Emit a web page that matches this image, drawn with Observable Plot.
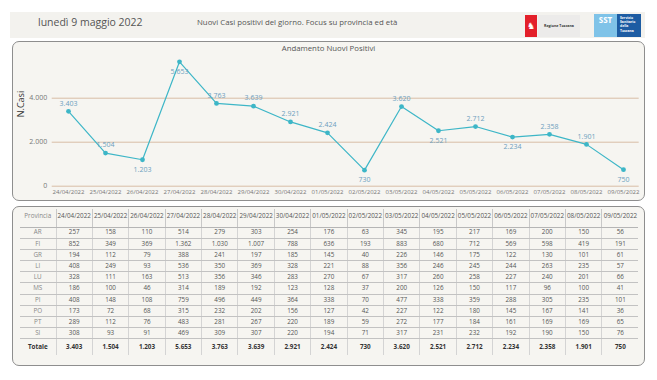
<!DOCTYPE html>
<html>
<head>
<meta charset="utf-8">
<script src="https://cdn.jsdelivr.net/npm/d3@7"></script>
<script src="https://cdn.jsdelivr.net/npm/@observablehq/plot@0.6"></script>
<style>
  html, body { margin: 0; padding: 0; background: #ffffff; }
  body { width: 657px; height: 380px; position: relative; overflow: hidden; font-family: "Open Sans", "Noto Sans", sans-serif; }
  .band { position: absolute; left: 10px; top: 12px; width: 635px; height: 26px; background: #f3f2ee; }
  .date { position: absolute; left: 38px; top: 14px; font-size: 10.5px; color: #555; line-height: 16px; }
  .sub { position: absolute; left: 197px; top: 16px; font-size: 7.8px; color: #555; line-height: 12px; }
  .rtred { position: absolute; left: 525px; top: 15px; width: 12px; height: 22px; background: #e3202a; color: #fff; font-size: 9px; text-align: center; line-height: 22px; }
  .rttxt { position: absolute; left: 538px; top: 15px; width: 42px; height: 22px; background: #ecebea; font-size: 3.6px; font-weight: bold; color: #333; line-height: 22px; text-align: center; }
  .sst1 { position: absolute; left: 594px; top: 14px; width: 23px; height: 23px; background: #7fc3e8; color: #fff; font-size: 8px; font-weight: bold; text-align: center; line-height: 12px; }
  .sst2 { position: absolute; left: 617px; top: 14px; width: 24px; height: 23px; background: #1d5ca3; color: #fff; font-size: 3.4px; font-weight: bold; line-height: 4.2px; padding: 2px 0 0 3px; box-sizing: border-box; }
  .panel { position: absolute; box-sizing: border-box; border: 1px solid #8e8e8e; border-radius: 7px; background: #f6f5f1; }
  #chartPanel { left: 12px; top: 41px; width: 633px; height: 160px; }
  #tablePanel { left: 12px; top: 206px; width: 633px; height: 160px; }
  .ctitle { position: absolute; left: 0; width: 631px; top: 1px; text-align: center; font-size: 7.8px; color: #555; }
  #chart { position: absolute; left: 0; top: 0; }
  table { position: absolute; left: 7px; top: 1.5px; border-collapse: collapse; table-layout: fixed; font-size: 6.3px; color: #555; }
  td, th { text-align: center; padding: 0; overflow: hidden; white-space: nowrap; line-height: 1; }
  th { font-weight: normal; color: #555; height: 16px; vertical-align: middle; padding-bottom: 2px; border-bottom: 1px solid #b5b5b5; border-left: 1px solid #c8c8c8; }
  th:first-child, td:first-child { border-left: none; color: #888; }
  td { height: 10.2px; border-bottom: 1px solid #c2c2c2; border-left: 1px solid #d4d4d4; }
  tr.tot td { height: 15.6px; font-weight: bold; color: #333; border-bottom: none; }
  tr.tot td:first-child { color: #333; }
</style>
</head>
<body>
<div class="band"></div>
<div class="date">lunedì 9 maggio 2022</div>
<div class="sub">Nuovi Casi positivi del giorno. Focus su provincia ed età</div>
<div class="rtred">♞</div>
<div class="rttxt">Regione Toscana</div>
<div class="sst1">SST</div>
<div class="sst2">Servizio<br>Sanitario<br>della<br>Toscana</div>

<div class="panel" id="chartPanel">
  <div id="chart"></div>
  <div class="ctitle">Andamento Nuovi Positivi</div>
</div>
<div class="panel" id="tablePanel"></div>

<script>
// ---- data ----
const dates = ["24/04/2022","25/04/2022","26/04/2022","27/04/2022","28/04/2022","29/04/2022","30/04/2022","01/05/2022","02/05/2022","03/05/2022","04/05/2022","05/05/2022","06/05/2022","07/05/2022","08/05/2022","09/05/2022"];
const totals = [3403,1504,1203,5653,3763,3639,2921,2424,730,3620,2521,2712,2234,2358,1901,750];
const provinces = ["AR","FI","GR","LI","LU","MS","PI","PO","PT","SI"];
const AR = [257,158,110,514,279,303,254,176,63,345,195,217,169,200,150,56];
const FI = [852,349,369,1362,1030,1007,788,636,193,883,680,712,569,598,419,191];
const GR = [194,112,79,388,241,197,185,145,40,226,146,175,122,130,101,61];
const LI = [408,249,93,536,350,369,328,221,88,356,246,245,244,263,235,57];
const LU = [328,111,163,513,356,346,283,270,67,317,260,258,227,240,201,66];
const MS = [186,100,46,314,189,192,123,128,37,200,126,150,117,96,100,41];
const PI = [408,148,108,759,496,449,364,338,70,477,338,359,288,305,235,101];
const PO = [173,72,68,315,232,202,156,127,42,227,122,180,145,167,141,36];
const PT = [289,112,76,483,281,267,220,189,59,272,177,184,161,169,169,65];
const SI = [308,93,91,469,309,307,220,194,71,317,231,232,192,190,150,76];
const yTicks = [0, 2000, 4000];

const byProv = {AR, FI, GR, LI, LU, MS, PI, PO, PT, SI};
const fmt = d3.formatLocale({decimal: ",", thousands: ".", grouping: [3], currency: ["€", ""]}).format(",d");

// ---- chart ----
const pts = dates.map((d, i) => {
  const v = totals[i];
  const prev = i > 0 ? totals[i - 1] : Infinity;
  const next = i < totals.length - 1 ? totals[i + 1] : Infinity;
  const isMin = prev > v && next > v;
  return {date: d, value: v, below: isMin || v > 5000};
});

const lineColor = "#3db6c7";
const labelColor = "#6d9fbe";

const chart = Plot.plot({
  width: 631,
  height: 158,
  marginLeft: 38.7,
  marginRight: 5.3,
  marginTop: 11.7,
  marginBottom: 14.3,
  style: {background: "transparent", fontFamily: "Open Sans, Noto Sans, sans-serif", fontSize: "6px", color: "#777", overflow: "visible"},
  x: {type: "point", domain: dates, padding: 0.376, tickSize: 0, tickPadding: 4, label: null},
  y: {domain: [0, 6000], ticks: yTicks, tickFormat: fmt, tickSize: 0, tickPadding: 5, label: null},
  marks: [
    Plot.ruleY(yTicks, {stroke: "#d8bda6", strokeWidth: 1}),
    Plot.line(pts, {x: "date", y: "value", stroke: lineColor, strokeWidth: 1.2}),
    Plot.dot(pts, {x: "date", y: "value", fill: lineColor, r: 2.4}),
    Plot.text(pts.filter(p => !p.below), {x: "date", y: "value", text: p => fmt(p.value), dy: -8, fill: labelColor, fontSize: 7}),
    Plot.text(pts.filter(p => p.below), {x: "date", y: "value", text: p => fmt(p.value), dy: 10, fill: labelColor, fontSize: 7}),
    Plot.text(["N.Casi"], {frameAnchor: "left", rotate: -90, dx: -31.5, dy: -3, fill: "#333", fontSize: 9})
  ]
});
document.getElementById("chart").appendChild(chart);
d3.select(chart).selectAll("g[aria-label='y-axis tick label'] text, g[aria-label='y-axis'] text").attr("font-size", "7px");

// ---- table ----
const tbl = d3.select("#tablePanel").append("table");
const colg = tbl.append("colgroup");
colg.append("col").style("width", "36px");
dates.forEach(() => colg.append("col").style("width", "36.4px"));
tbl.style("width", (36 + 36.4 * dates.length) + "px");
const head = tbl.append("thead").append("tr");
head.append("th").text("Provincia");
dates.forEach(d => head.append("th").text(d));
const body = tbl.append("tbody");
provinces.forEach(p => {
  const tr = body.append("tr");
  tr.append("td").text(p);
  byProv[p].forEach(v => tr.append("td").text(fmt(v)));
});
const trt = body.append("tr").attr("class", "tot");
trt.append("td").text("Totale");
totals.forEach(v => trt.append("td").text(fmt(v)));
</script>
</body>
</html>
